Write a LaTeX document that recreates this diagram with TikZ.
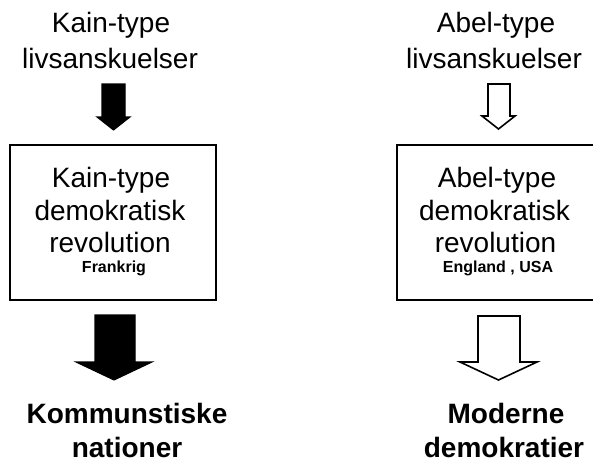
\documentclass[tikz,border=0pt]{standalone}
\usepackage{fontspec}
\setmainfont{Liberation Sans}
\begin{document}
\begin{tikzpicture}[x=0.75pt,y=-0.75pt,
  txt/.style={anchor=base,inner sep=0pt,font=\fontsize{21}{25}\selectfont},
  btxt/.style={anchor=base,inner sep=0pt,font=\fontsize{21}{25}\selectfont\bfseries},
  small/.style={anchor=base,inner sep=0pt,font=\fontsize{12}{14}\selectfont\bfseries},
  boxstyle/.style={draw=black,line width=1.5pt},
  blackarrow/.style={fill=black,draw=black,line width=0.8pt,line join=miter},
  whitearrow/.style={fill=white,draw=black,line width=1.2pt,line join=miter}]
\useasboundingbox (0,0) rectangle (593,462);
\clip (0,0) rectangle (593,462);
\fill[white] (0,0) rectangle (593,462);

% left column
\node[txt] (k1) at (111,32) {Kain-type};
\node[txt] (k2) at (110,68) {livsanskuelser};
\draw[blackarrow] (102,84) -- (125,84) -- (125,117) -- (130,117) -- (113.5,130) -- (97,117) -- (102,117) -- cycle;
\draw[boxstyle] (10,145) rectangle (216,300);
\node[txt] (kb1) at (111,187) {Kain-type};
\node[txt] (kb2) at (110,220) {demokratisk};
\node[txt] (kb3) at (110,252) {revolution};
\node[small] (kb4) at (114,272) {Frankrig};
\draw[blackarrow] (95,315) -- (135,315) -- (135,362) -- (152,362) -- (114,380) -- (76,362) -- (95,362) -- cycle;
\node[btxt] (kr1) at (127,423) {Kommunstiske};
\node[btxt] (kr2) at (127,457) {nationer};

% right column
\node[txt] (a1) at (496,32) {Abel-type};
\node[txt] (a2) at (494,68) {livsanskuelser};
\draw[whitearrow] (488,84) -- (510,84) -- (510,116) -- (515,116) -- (498.5,129) -- (482,116) -- (488,116) -- cycle;
\draw[boxstyle] (397,145) rectangle (600,300);
\node[txt] (ab1) at (497,187) {Abel-type};
\node[txt] (ab2) at (494.5,220) {demokratisk};
\node[txt] (ab3) at (495.5,252) {revolution};
\node[small] (ab4) at (498,272) {England , USA};
\draw[whitearrow] (478,316) -- (520,316) -- (520,362) -- (537,362) -- (498.5,380) -- (460,362) -- (478,362) -- cycle;
\node[btxt] (ar1) at (506,423) {Moderne};
\node[btxt] (ar2) at (504,457) {demokratier};
\end{tikzpicture}
\end{document}
